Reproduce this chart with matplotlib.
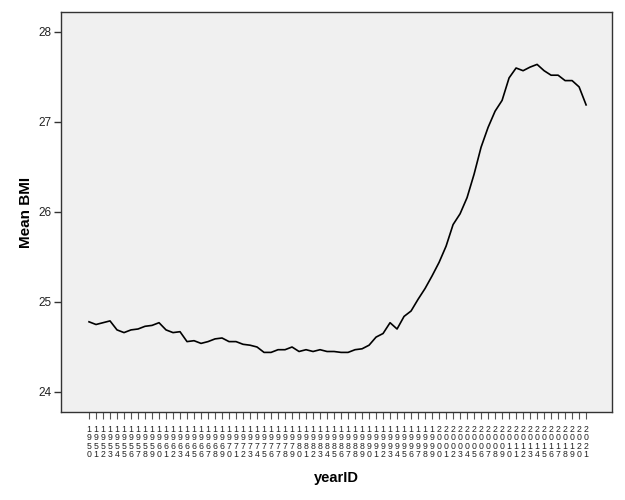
import numpy as np
from matplotlib import pyplot as plt

plt.rcParams['font.family'] = ['Liberation Sans', 'DejaVu Sans']

# years 1950..2021
years = list(range(1950, 2022))
mean_bmi = [
    24.78, 24.75, 24.77, 24.79, 24.69, 24.66, 24.69, 24.70, 24.73, 24.74,  # 1950s
    24.77, 24.69, 24.66, 24.67, 24.56, 24.57, 24.54, 24.56, 24.59, 24.60,  # 1960s
    24.56, 24.56, 24.53, 24.52, 24.50, 24.44, 24.44, 24.47, 24.47, 24.50,  # 1970s
    24.45, 24.47, 24.45, 24.47, 24.45, 24.45, 24.44, 24.44, 24.47, 24.48,  # 1980s
    24.52, 24.61, 24.65, 24.77, 24.70, 24.84, 24.90, 25.03, 25.15, 25.29,  # 1990s
    25.44, 25.62, 25.86, 25.98, 26.16, 26.42, 26.72, 26.94, 27.12, 27.24,  # 2000s
    27.49, 27.60, 27.57, 27.61, 27.64, 27.57, 27.52, 27.52, 27.46, 27.46,  # 2010s
    27.39, 27.19,                                                          # 2020s
]
y_ticks = [24, 25, 26, 27, 28]

x = np.arange(len(years))
x_labels = ["\n".join(str(yr)) for yr in years]

fig = plt.figure(figsize=(6.25, 5), dpi=100)
ax = fig.add_axes([61 / 625, 1 - 412 / 500, 551 / 625, 400 / 500])
ax.set_facecolor('#f0f0f0')

ax.plot(x, mean_bmi, color='black', linewidth=1.2)

ax.set_xlim(-4, 74.7)
ax.set_ylim(28 - 380 / 90, 28 + 20 / 90)

ax.set_xticks(x)
ax.set_xticklabels(x_labels, fontsize=6.3, linespacing=0.95, color='#222222')
ax.set_yticks(y_ticks)
ax.set_yticklabels([str(t) for t in y_ticks], fontsize=8.5, color='#222222')
ax.tick_params(axis='x', length=5, width=0.8, color='#555555', pad=4)
ax.tick_params(axis='y', length=5, width=1.0, color='#333333', pad=2)

for s in ax.spines.values():
    s.set_color('#333333')
    s.set_linewidth(1.0)

ax.set_xlabel('yearID', fontsize=10.5, fontweight='bold', labelpad=8)
ax.set_ylabel('Mean BMI', fontsize=11, fontweight='bold', labelpad=4)

fig.savefig('out.png', dpi=100)
